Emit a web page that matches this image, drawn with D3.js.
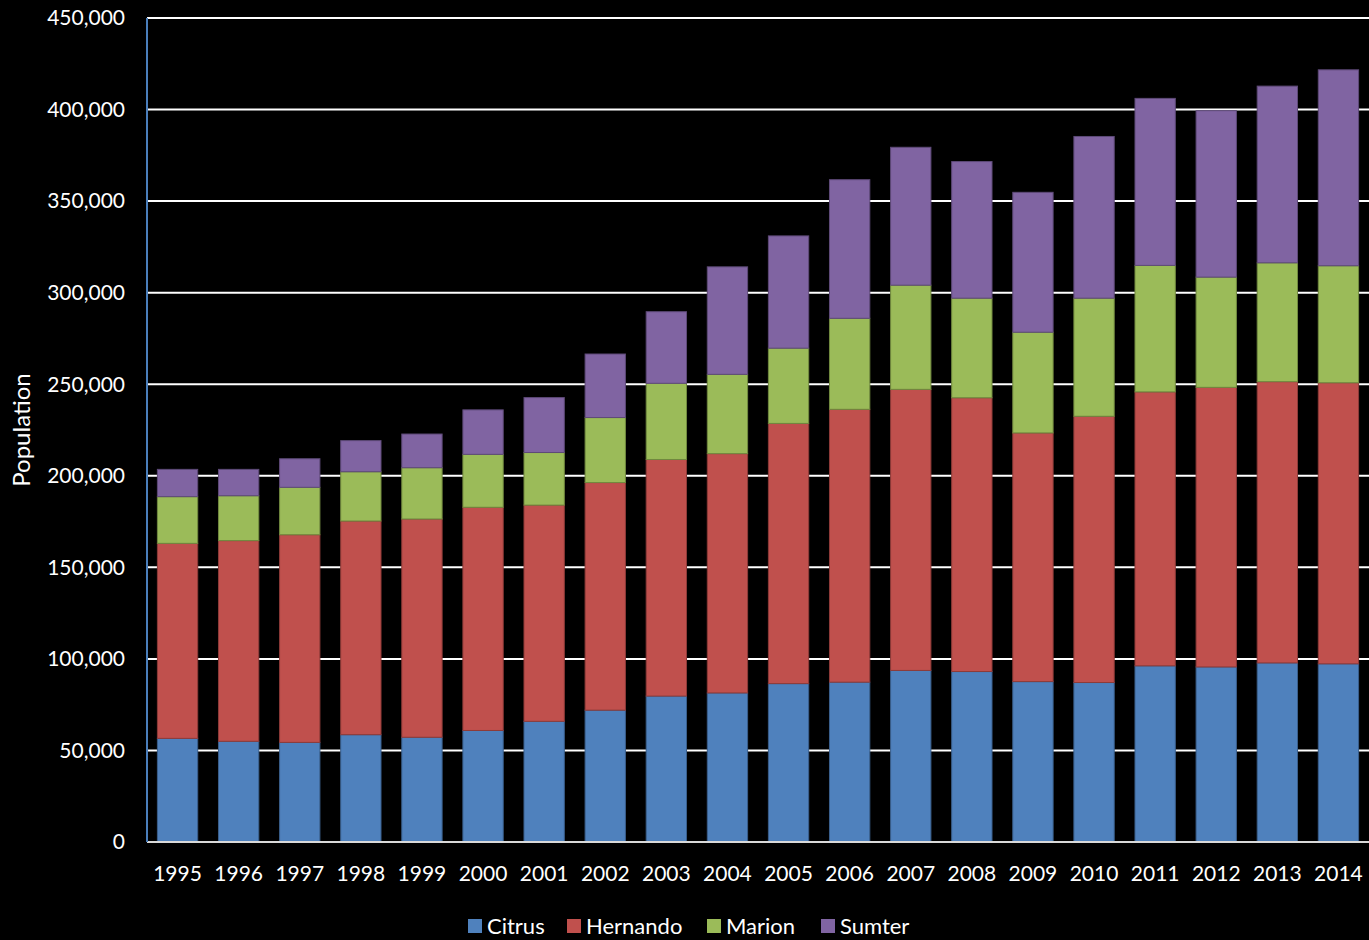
<!DOCTYPE html>
<html><head><meta charset="utf-8">
<script src="https://cdn.jsdelivr.net/npm/d3@7"></script>
<style>html,body{margin:0;padding:0;background:#000;}svg{display:block;}</style>
</head><body>
<svg id="chart" width="1369" height="940"></svg>
<script>
const years = ["1995","1996","1997","1998","1999","2000","2001","2002","2003","2004","2005","2006","2007","2008","2009","2010","2011","2012","2013","2014"];
const seriesNames = ["Citrus","Hernando","Marion","Sumter"];
const citrus   = [56600,55000,54400,58600,57200,60900,65900,72000,79700,81400,86500,87300,93700,93100,87600,87100,96200,95600,97800,97300];
const hernando = [106500,109600,113400,116700,119200,121900,118100,124300,129200,130700,142100,149000,153500,149500,135800,145400,149600,152700,153600,153500];
const marion   = [25500,24500,25900,26900,28000,28900,28700,35500,41600,43300,41100,49700,56900,54400,55000,64500,69100,60200,64900,63900];
const sumter   = [14900,14400,15600,17000,18400,24300,30000,34700,39100,58700,61300,75700,75300,74600,76400,88300,91200,90900,96500,107000];
const yTicks = [0,50000,100000,150000,200000,250000,300000,350000,400000,450000];
const colors = ["#4F81BD","#C0504D","#9BBB59","#8064A2"];
const strokes = ["#3a5f8c","#8e3b39","#71893f","#5e4a78"];

const svg = d3.select("#chart");
const font = "Lato, 'Open Sans', sans-serif";
const m = {left:147, right:0, top:18, bottom:98};
const W = 1369, H = 940;
const x = d3.scaleBand().domain(years).range([m.left, W - m.right]).paddingInner(0.34).paddingOuter(0.17);
const y = d3.scaleLinear().domain([0,450000]).range([H - m.bottom, m.top]);

const rows = years.map((yr,i)=>({year:yr, Citrus:citrus[i], Hernando:hernando[i], Marion:marion[i], Sumter:sumter[i]}));
const stacked = d3.stack().keys(seriesNames)(rows);

// gridlines
svg.append("g").selectAll("line").data(yTicks.filter(d=>d>0)).join("line")
  .attr("x1", m.left).attr("x2", W).attr("y1", d=>y(d)).attr("y2", d=>y(d))
  .attr("stroke", "#ffffff").attr("stroke-width", 2);

// bars
svg.append("g").selectAll("g").data(stacked).join("g")
  .attr("fill", (d,i)=>colors[i]).attr("stroke", (d,i)=>strokes[i])
  .selectAll("rect").data(d=>d).join("rect")
  .attr("x", d=>x(d.data.year)).attr("width", x.bandwidth())
  .attr("y", d=>y(d[1])).attr("height", d=>y(d[0]) - y(d[1]))
  .attr("stroke-width", 1);

// x axis line
svg.append("line").attr("x1", m.left).attr("x2", W).attr("y1", y(0)).attr("y2", y(0))
  .attr("stroke", "#d9d9d9").attr("stroke-width", 2);
// y axis line
svg.append("line").attr("x1", m.left).attr("x2", m.left).attr("y1", y(0)).attr("y2", y(450000))
  .attr("stroke", "#4a7ebb").attr("stroke-width", 2);

// y tick labels
const fmt = d3.format(",");
svg.append("g").selectAll("text").data(yTicks).join("text")
  .attr("x", 125).attr("y", d=>y(d)).attr("dy", "0.35em")
  .attr("text-anchor", "end").attr("fill", "#ffffff")
  .style("font-family", font).style("font-size", "21px")
  .text(d=>fmt(d));

// x tick labels
svg.append("g").selectAll("text").data(years).join("text")
  .attr("x", d=>x(d) + x.bandwidth()/2).attr("y", 881)
  .attr("text-anchor", "middle").attr("fill", "#ffffff")
  .style("font-family", font).style("font-size", "21px")
  .text(d=>d);

// y axis title
svg.append("text").attr("transform", "translate(30,430) rotate(-90)")
  .attr("text-anchor", "middle").attr("fill", "#ffffff")
  .style("font-family", font).style("font-size", "24px")
  .text("Population");

// legend
const legendX = [468, 567, 707, 821];
const lg = svg.append("g").selectAll("g").data(seriesNames).join("g")
  .attr("transform", (d,i)=>`translate(${legendX[i]},919)`);
lg.append("rect").attr("width", 14).attr("height", 14).attr("fill", (d,i)=>colors[i]);
lg.append("text").attr("x", 19).attr("y", 7).attr("dy", "0.36em").attr("fill", "#ffffff")
  .style("font-family", font).style("font-size", "22px").text(d=>d);
</script>
</body></html>
